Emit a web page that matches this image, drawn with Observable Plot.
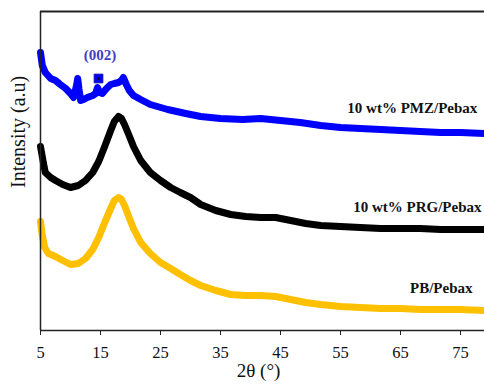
<!DOCTYPE html>
<html><head><meta charset="utf-8">
<script src="https://cdn.jsdelivr.net/npm/d3@7"></script>
<script src="https://cdn.jsdelivr.net/npm/@observablehq/plot@0.6"></script>
<style>
html,body{margin:0;padding:0;background:#fff}
#chart svg{display:block}
#chart svg, #chart svg text{font-family:"Liberation Serif", serif !important}
</style>
</head><body><div id="chart"></div>
<script>
// 2θ (degrees) and intensity (a.u., offset-stacked as in the figure)
const twoThetaPMZ = [5.0,5.3,5.8,6.7,7.5,8.3,9.2,10.0,10.5,11.0,11.2,11.4,11.7,12.2,12.8,13.7,14.2,14.5,14.8,15.3,16.0,16.7,17.3,18.0,18.5,18.8,19.3,19.8,20.5,21.7,23.3,26.2,29.2,31.7,35.0,38.7,41.7,45.0,48.3,51.7,55.0,58.3,61.7,65.0,68.3,71.7,75.0,79.0];
const intensityPMZ = [278,265,258,252,250,246,242,237,233,245,252,242,230,231,233,235,237,243,238,237,242,246,247,248,250,253,246,240,235,231,226,221,217,214,212,211,212,210,208,205,203,202,201,200,199,198,198,197];

const twoThetaPRG = [5.0,5.5,5.8,6.7,7.5,8.7,10.0,11.3,12.5,13.7,14.7,15.7,16.7,17.3,18.0,18.5,19.0,19.7,20.5,21.7,23.3,25.0,26.7,28.3,30.0,31.7,34.2,36.7,39.2,41.7,44.2,46.7,49.2,51.7,55.0,58.3,61.7,65.0,68.3,71.7,75.0,79.0];
const intensityPRG = [184,167,158,153,150,146,143,145,150,158,169,184,200,209,214,212,206,196,184,170,158,150,143,138,133,126,120,116,114,113,113,110,107,105,104,103,102,102,102,101,101,101];

const twoThetaPB = [5.0,5.3,5.7,6.3,7.5,8.7,10.0,11.3,12.5,13.7,14.7,15.7,16.7,17.3,18.0,18.5,19.0,19.7,20.5,21.7,23.3,25.0,26.7,28.3,30.0,31.7,34.2,36.7,39.2,41.7,44.2,46.7,49.2,51.7,55.0,58.3,61.7,65.0,68.3,71.7,75.0,79.0];
const intensityPB = [109,95,83,77,74,70,66,67,72,81,93,108,122,130,133,131,125,114,102,88,77,68,62,56,50,45,40,36,35,35,34,31,28,26,24,23,22,22,21,21,21,20];

const seriesNames = ["10 wt% PMZ/Pebax", "10 wt% PRG/Pebax", "PB/Pebax"];
const seriesColors = ["#0000ff", "#000000", "#ffc000"];
const xTicks = [5, 15, 25, 35, 45, 55, 65, 75];
const peakLabel = "(002)";
const peakMarker = [{x: 14.67, y: 252}];
const xTitle = "2θ (°)";
const yTitle = "Intensity (a.u)";

const seriesX = [twoThetaPMZ, twoThetaPRG, twoThetaPB];
const seriesY = [intensityPMZ, intensityPRG, intensityPB];
const rows = [];
seriesNames.forEach((s, i) => seriesX[i].forEach((x, j) => rows.push({s, x, y: seriesY[i][j]})));

const plot = Plot.plot({
  width: 484,
  height: 392,
  marginLeft: 40,
  marginRight: 0,
  marginTop: 11,
  marginBottom: 62,
  x: {domain: [5, 79]},
  y: {domain: [0, 319], axis: null},
  color: {domain: seriesNames, range: seriesColors},
  style: {fontFamily: "Liberation Serif, serif", fontSize: "16.5px", color: "#111", background: "#fff"},
  marks: [
    Plot.line(rows, {x: "x", y: "y", z: "s", stroke: "s", strokeWidth: 7, strokeLinejoin: "round"}),
    Plot.ruleY([0], {stroke: "#222", strokeWidth: 1.5}),
    Plot.ruleY([319], {stroke: "#222", strokeWidth: 2.2}),
    Plot.ruleX([5], {stroke: "#222", strokeWidth: 1.5}),
    Plot.axisX({ticks: xTicks, tickSize: 5, tickPadding: 11, label: null, fontSize: 16.5, stroke: "#222"}),
    Plot.text(seriesNames, {
      x: [77.8, 78.5, 77.0], y: [222, 123, 42], text: d => d,
      textAnchor: "end", fontWeight: "bold", fontSize: 15, fill: "#111"
    }),
    Plot.text([peakLabel], {x: [14.9], y: [275], text: d => d, fontWeight: "bold", fontSize: 15, fill: "#3f3fbf"}),
    Plot.dot(peakMarker, {x: "x", y: "y", symbol: "square", r: 5, fill: "#0000ff", stroke: "#1a1aa0", strokeWidth: 0.8}),
    Plot.dot(peakMarker, {x: "x", y: "y", r: 1.3, fill: "#000"}),
    Plot.text([xTitle], {frameAnchor: "bottom", text: d => d, dy: 46, dx: -4, fontSize: 19}),
    Plot.text([yTitle], {frameAnchor: "left", text: d => d, dx: -22, dy: 17, rotate: -90, fontSize: 20})
  ]
});
document.getElementById("chart").appendChild(plot);
</script>
</body></html>
